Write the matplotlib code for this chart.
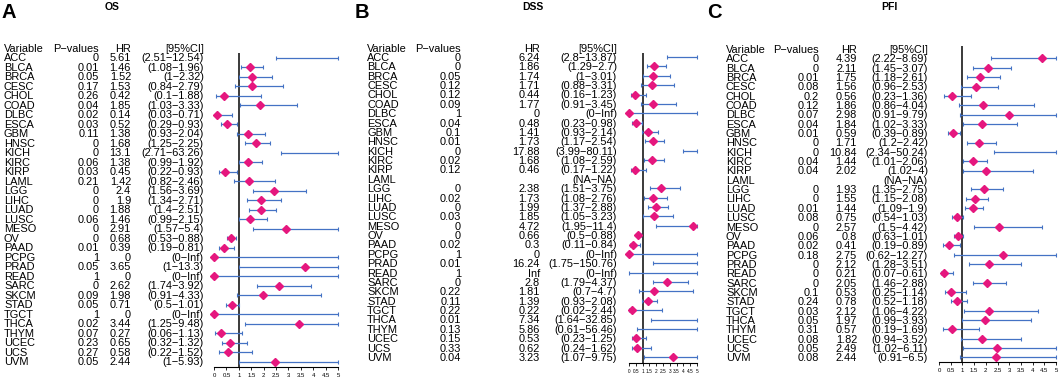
import numpy as np
import matplotlib
matplotlib.use("Agg")
import matplotlib.pyplot as plt
from matplotlib.transforms import blended_transform_factory, offset_copy

plt.rcParams['font.family'] = ['Liberation Sans', 'DejaVu Sans']

nan = np.nan
inf = np.inf

cancers = ['ACC', 'BLCA', 'BRCA', 'CESC', 'CHOL', 'COAD', 'DLBC', 'ESCA', 'GBM', 'HNSC',
           'KICH', 'KIRC', 'KIRP', 'LAML', 'LGG', 'LIHC', 'LUAD', 'LUSC', 'MESO', 'OV',
           'PAAD', 'PCPG', 'PRAD', 'READ', 'SARC', 'SKCM', 'STAD', 'TGCT', 'THCA', 'THYM',
           'UCEC', 'UCS', 'UVM']

# OS
os_p = [0, 0.01, 0.05, 0.17, 0.26, 0.04, 0.02, 0.03, 0.11, 0, 0, 0.06, 0.03, 0.21, 0, 0, 0,
        0.06, 0, 0, 0.01, 1, 0.05, 1, 0, 0.09, 0.05, 1, 0.02, 0.07, 0.23, 0.27, 0.05]
os_hr = [5.61, 1.46, 1.52, 1.53, 0.42, 1.85, 0.14, 0.52, 1.38, 1.68, 13.1, 1.38, 0.45, 1.42,
         2.4, 1.9, 1.88, 1.46, 2.91, 0.68, 0.39, 0, 3.65, 0, 2.62, 1.98, 0.71, 0, 3.44, 0.27,
         0.65, 0.58, 2.44]
os_lo = [2.51, 1.08, 1, 0.84, 0.1, 1.03, 0.03, 0.29, 0.93, 1.25, 2.71, 0.99, 0.22, 0.82, 1.56,
         1.34, 1.4, 0.99, 1.57, 0.53, 0.19, 0, 1, 0, 1.74, 0.91, 0.5, 0, 1.25, 0.06, 0.32, 0.22, 1]
os_hi = [12.54, 1.96, 2.32, 2.79, 1.88, 3.33, 0.71, 0.93, 2.04, 2.25, 63.26, 1.92, 0.93, 2.46,
         3.69, 2.71, 2.51, 2.15, 5.4, 0.88, 0.81, inf, 13.3, inf, 3.92, 4.33, 1.01, inf, 9.48,
         1.13, 1.32, 1.52, 5.93]

# DSS
dss_p = [0, 0, 0.05, 0.12, 0.12, 0.09, 1, 0.04, 0.1, 0.01, 0, 0.02, 0.12, nan, 0, 0.02, 0,
         0.03, 0, 0, 0.02, 1, 0.01, 1, 0, 0.22, 0.11, 0.22, 0.01, 0.13, 0.15, 0.33, 0.04]
dss_hr = [6.24, 1.86, 1.74, 1.71, 0.44, 1.77, 0, 0.48, 1.41, 1.73, 17.88, 1.68, 0.46, nan,
          2.38, 1.73, 1.99, 1.85, 4.72, 0.66, 0.3, 0, 16.24, inf, 2.8, 1.81, 1.39, 0.22, 7.34,
          5.86, 0.53, 0.62, 3.23]
dss_lo = [2.8, 1.29, 1, 0.88, 0.16, 0.91, 0, 0.23, 0.93, 1.17, 3.99, 1.08, 0.17, nan, 1.51,
          1.08, 1.37, 1.05, 1.95, 0.5, 0.11, 0, 1.75, 0, 1.79, 0.7, 0.93, 0.02, 1.64, 0.61,
          0.23, 0.24, 1.07]
dss_hi = [13.87, 2.7, 3.01, 3.31, 1.23, 3.45, inf, 0.98, 2.14, 2.54, 80.11, 2.59, 1.22, nan,
          3.75, 2.76, 2.88, 3.23, 11.4, 0.88, 0.84, inf, 150.76, inf, 4.37, 4.7, 2.08, 2.44,
          32.85, 56.46, 1.25, 1.62, 9.75]

# PFI
pfi_p = [0, 0, 0.01, 0.08, 0.2, 0.12, 0.07, 0.04, 0.01, 0, 0, 0.04, 0.04, nan, 0, 0, 0.01,
         0.08, 0, 0.06, 0.02, 0.18, 0, 0, 0, 0.1, 0.24, 0.03, 0.05, 0.31, 0.08, 0.05, 0.08]
pfi_hr = [4.39, 2.11, 1.75, 1.56, 0.56, 1.86, 2.98, 1.84, 0.59, 1.71, 10.84, 1.44, 2.02, nan,
          1.93, 1.55, 1.44, 0.75, 2.57, 0.8, 0.41, 2.75, 2.12, 0.21, 2.05, 0.53, 0.78, 2.12,
          1.97, 0.57, 1.82, 2.49, 2.44]
pfi_lo = [2.22, 1.45, 1.18, 0.96, 0.23, 0.86, 0.91, 1.02, 0.39, 1.2, 2.34, 1.01, 1.02, nan,
          1.35, 1.15, 1.09, 0.54, 1.5, 0.63, 0.19, 0.62, 1.28, 0.07, 1.46, 0.25, 0.52, 1.06,
          0.99, 0.19, 0.94, 1.02, 0.91]
pfi_hi = [8.69, 3.07, 2.61, 2.53, 1.36, 4.04, 9.79, 3.33, 0.89, 2.42, 50.24, 2.06, 4, nan,
          2.75, 2.08, 1.9, 1.03, 4.42, 1.01, 0.89, 12.27, 3.51, 0.61, 2.88, 1.14, 1.18, 4.22,
          3.93, 1.69, 3.52, 6.11, 6.5]

BLUE = '#4472C4'
PINK = '#E5177E'
W, H = 1059, 379
FS = 7.9


def fmt(v, blank=''):
    if np.isnan(v):
        return blank
    if np.isinf(v):
        return 'Inf'
    return f'{v:g}'


# layout per panel (pixels): letter, title, columns, forest axes, row geometry
panels = [
    dict(letter='A', lx=2, title='OS', tx=112, cols=(4, 99, 131, 204),
         ax=(214, 338, 53, 367), r0=57.5, dr=9.5,
         data=(os_p, os_hr, os_lo, os_hi), tsize=4.3),
    dict(letter='B', lx=355, title='DSS', tx=533, cols=(367, 461, 540, 617),
         ax=(629, 697, 53, 363), r0=57.0, dr=9.375,
         data=(dss_p, dss_hr, dss_lo, dss_hi), tsize=3.4),
    dict(letter='C', lx=707, title='PFI', tx=889, cols=(726, 819, 857, 928),
         ax=(939, 1056, 46, 362), r0=58.5, dr=9.34,
         data=(pfi_p, pfi_hr, pfi_lo, pfi_hi), tsize=4.3),
]

fig = plt.figure(figsize=(W / 100, H / 100), dpi=100)

for pn in panels:
    x0, x1, yt, yb = pn['ax']
    ax = fig.add_axes([x0 / W, 1 - yb / H, (x1 - x0) / W, (yb - yt) / H])
    ax.set_xlim(0, 5)
    ax.set_ylim((yb - pn['r0']) / pn['dr'], (yt - pn['r0']) / pn['dr'])
    p, hr, lo, hi = pn['data']
    rows = np.arange(len(cancers))

    ax.axvline(1, color='#3a3a3a', lw=1.4, zorder=1)
    for i in rows:
        if np.isnan(lo[i]):
            continue
        a = min(max(lo[i], 0), 5)
        b = min(hi[i], 5)
        ax.hlines(i, a, b, color=BLUE, lw=0.9, zorder=2)
        ax.plot([a, b], [i, i], ls='none', marker='|', ms=2.6, mew=0.8,
                color=BLUE, zorder=2, clip_on=False)
        if 0 <= hr[i] <= 5:
            ax.plot(hr[i], i, marker='D', ms=4.2, color=PINK, mec=PINK,
                    zorder=3, clip_on=False)

    for s in ('top', 'right', 'left'):
        ax.spines[s].set_visible(False)
    ax.spines['bottom'].set_linewidth(0.8)
    ax.set_yticks([])
    ax.set_xticks(np.arange(0, 5.01, 0.5))
    ax.set_xticklabels([f'{t:g}' for t in np.arange(0, 5.01, 0.5)])
    ax.tick_params(axis='x', labelsize=pn['tsize'], length=2.5, width=0.6, pad=1.5)
    ax.patch.set_alpha(0)

    # table text
    trans = offset_copy(blended_transform_factory(fig.transFigure, ax.transData),
                        fig=fig, y=-2.8, units='points')
    cv, cp, ch, cc = [c / W for c in pn['cols']]
    head = -1
    ax.text(cv, head, 'Variable', transform=trans, ha='left', va='baseline', fontsize=FS)
    ax.text(cp, head, 'P\u2212values', transform=trans, ha='right', va='baseline', fontsize=FS)
    ax.text(ch, head, 'HR', transform=trans, ha='right', va='baseline', fontsize=FS)
    ax.text(cc, head, '[95%CI]', transform=trans, ha='right', va='baseline', fontsize=FS)
    for i in rows:
        ax.text(cv, i, cancers[i], transform=trans, ha='left', va='baseline', fontsize=FS)
        ax.text(cp, i, fmt(p[i]), transform=trans, ha='right', va='baseline', fontsize=FS)
        ax.text(ch, i, fmt(hr[i]), transform=trans, ha='right', va='baseline', fontsize=FS)
        ci = '(' + fmt(lo[i], 'NA') + '\u2212' + fmt(hi[i], 'NA') + ')'
        ax.text(cc, i, ci, transform=trans, ha='right', va='baseline', fontsize=FS)

    fig.text(pn['lx'] / W, 1 - 3 / H, pn['letter'], fontsize=14.5, fontweight='bold',
             ha='left', va='top')
    fig.text(pn['tx'] / W, 1 - 7 / H, pn['title'], fontsize=7.5, fontweight='bold',
             ha='center', va='center')

fig.savefig('out.png', dpi=100)
